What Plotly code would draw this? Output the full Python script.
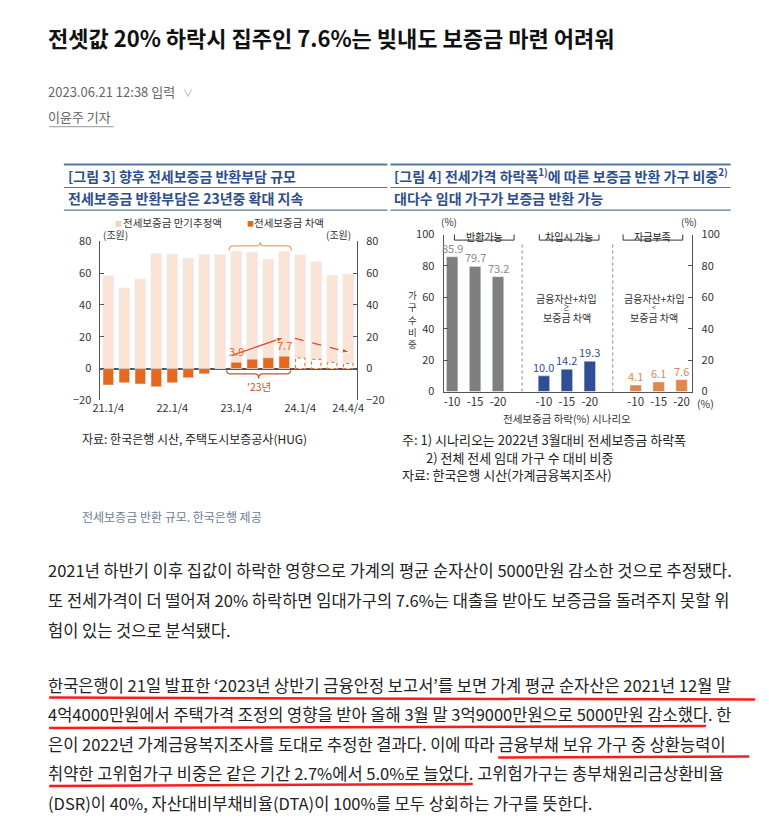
import plotly.graph_objects as go

W, H = 769, 838
FONT = "Noto Sans CJK KR"


def px(x):
    return x / W


def py(y):
    return 1 - y / H


# [그림 3] 전세보증금 만기추정액 / 차액 (조원)
quarters = ['21.1/4', '21.2/4', '21.3/4', '21.4/4', '22.1/4', '22.2/4', '22.3/4', '22.4/4',
            '23.1/4', '23.2/4', '23.3/4', '23.4/4', '24.1/4', '24.2/4', '24.3/4', '24.4/4']
maturity = [58.3, 50.6, 56.2, 72.1, 71.9, 69.2, 71.7, 71.5, 73.5, 73.0, 68.7, 73.6, 71.3, 67.1, 58.5, 59.3]
gap = [-10.3, -8.9, -9.7, -11.4, -8.9, -5.8, -3.3, 0.0, 3.9, 5.9, 6.7, 7.7]
gap_fcst = [6.6, 5.8, 3.9, 3.1]
gap_labels = {8: '3.9', 11: '7.7'}
tick_quarters = ['21.1/4', '22.1/4', '23.1/4', '24.1/4', '24.4/4']

# [그림 4] 보증금 반환 가구 비중 (%)
scenarios = ['-10', '-15', '-20']
groups = ['반환가능', '차입시 가능', '자금부족']
share_ok = [85.9, 79.7, 73.2]
share_borrow = [10.0, 14.2, 19.3]
share_short = [4.1, 6.1, 7.6]

LIGHT = '#FBE4D5'
ORANGE = '#E4691E'
ARROW = '#E2462A'
BLUE_T = '#2D4E8E'
RULE = '#56779F'

idx = list(range(len(quarters)))
fig = go.Figure()

# --- 그림 3 ---
fig.add_trace(go.Bar(x=idx, y=maturity, width=0.68, marker_color=LIGHT, xaxis='x', yaxis='y'))
fig.add_trace(go.Bar(x=idx[:len(gap)], y=gap, width=0.66, marker_color=ORANGE, xaxis='x', yaxis='y'))
fx, fy = [], []
for i, v in zip(idx[len(gap):], gap_fcst):
    fx += [i - 0.29, i + 0.29, i + 0.29, i - 0.29, i - 0.29, None]
    fy += [0, 0, v, v, 0, None]
fig.add_trace(go.Scatter(x=fx, y=fy, mode='lines', fill='toself', fillcolor='white',
                         line=dict(color=ORANGE, width=1, dash='dot'), xaxis='x', yaxis='y'))
fig.add_trace(go.Scatter(x=idx, y=maturity, mode='markers', marker=dict(opacity=0),
                         xaxis='x', yaxis='y2'))

# arrows
for (x0, y0, x1, y1, dash) in [(7.73, 8.3, 11.0, 19.6, 'solid'), (11.66, 19.0, 15.1, 10.1, 'dash')]:
    fig.add_trace(go.Scatter(x=[x0, x1], y=[y0, y1], mode='lines+markers',
                             line=dict(color=ARROW, width=1.3, dash=dash),
                             marker=dict(symbol='arrow', angleref='previous', size=[0, 8],
                                         opacity=[0, 1], color=ARROW),
                             xaxis='x', yaxis='y'))

# --- 그림 4 ---
series = [(share_ok, '#7F7F7F', '#8A8A8A'), (share_borrow, '#2F4E96', '#2F4E96'),
          (share_short, '#E0874C', '#E0874C')]
bar_pos = []
for g, (vals, col, tcol) in enumerate(series):
    xs = [g * 4 + k + 1 for k in range(len(scenarios))]
    bar_pos.append(xs)
    fig.add_trace(go.Bar(x=xs, y=vals, width=0.5, marker_color=col, xaxis='x2', yaxis='y3'))
fig.add_trace(go.Scatter(x=[1, 11], y=[0, 100], mode='markers', marker=dict(opacity=0),
                         xaxis='x2', yaxis='y4'))

tick_font = dict(size=11, color='#333', family=FONT)
yax = dict(showline=True, linecolor='#555', linewidth=1, ticks='inside', ticklen=4,
           tickcolor='#555', showgrid=False, tickfont=tick_font, ticklabelstandoff=6)
fig.update_layout(
    width=W, height=H, margin=dict(l=0, r=0, t=0, b=0),
    paper_bgcolor='white', plot_bgcolor='white',
    font=dict(family=FONT, color='#222'),
    showlegend=False, hovermode=False, barmode='overlay',
    xaxis=dict(domain=[px(94.3), px(356)], range=[-0.49, 15.55], anchor='y',
               tickvals=[quarters.index(q) for q in tick_quarters], ticktext=tick_quarters,
               showline=False, showgrid=False, zeroline=False, ticks='', tickfont=tick_font,
               ticklabelstandoff=0),
    yaxis=dict(domain=[py(399), py(236.7)], range=[-20, 80], dtick=20, anchor='x',
               zeroline=True, zerolinecolor='#555', zerolinewidth=1.5, **yax),
    yaxis2=dict(overlaying='y', side='right', anchor='x', range=[-20, 80], dtick=20,
                zeroline=False, **yax),
    xaxis2=dict(domain=[px(444.3), px(698)], range=[0.63, 11.47], anchor='y3',
                tickvals=[g * 4 + k + 1 for g in range(3) for k in range(3)],
                ticktext=scenarios * 3, showline=True, linecolor='#555', linewidth=1,
                showgrid=False, zeroline=False, ticks='',
                tickfont=dict(size=11.5, color='#333', family=FONT)),
    yaxis3=dict(domain=[py(390), py(230)], range=[0, 100], dtick=20, anchor='x2',
                zeroline=False, **yax),
    yaxis4=dict(overlaying='y3', side='right', anchor='x2', range=[0, 100], dtick=20,
                zeroline=False, **yax),
)

ann = []


def note(x, y, text, size, color='#222', anchor='left', **kw):
    ann.append(dict(x=px(x), y=py(y), xref='paper', yref='paper', text=text, showarrow=False,
                    xanchor=anchor, yanchor='middle', font=dict(size=size, color=color, family=FONT), **kw))


def dnote(x, y, text, size, color, xr='x', yr='y', **kw):
    ann.append(dict(x=x, y=y, xref=xr, yref=yr, text=text, showarrow=False,
                    xanchor='center', yanchor='middle', font=dict(size=size, color=color, family=FONT), **kw))


# bar value labels
for i, lab in gap_labels.items():
    ann.append(dict(x=i, y=gap[i], xref='x', yref='y', text=lab, showarrow=False,
                    xanchor='center', yanchor='bottom', yshift=1,
                    font=dict(size=11, color=ORANGE, family=FONT)))
for xs, (vals, col, tcol) in zip(bar_pos, series):
    for x, v in zip(xs, vals):
        ann.append(dict(x=x, y=v, xref='x2', yref='y3', text=f'{v:.1f}', showarrow=False,
                        xanchor='center', yanchor='bottom', yshift=-1,
                        font=dict(size=11, color=tcol, family=FONT)))

# article header
note(39, 29, '<b>전셋값 20% 하락시 집주인 7.6%는 빚내도 보증금 마련 어려워</b>', 22, '#111')
note(39, 84, '2023.06.21 12:38 입력', 13, '#666')
note(176, 85, '∨', 10, '#AAA')
note(39, 110, '이윤주 기자', 13, '#666')

# figure titles
note(59, 170, '<b>[그림 3] 향후 전세보증금 반환부담 규모</b>', 14, BLUE_T)
note(59, 193, '<b>전세보증금 반환부담은 23년중 확대 지속</b>', 14, BLUE_T)
note(392, 170, '<b>[그림 4] 전세가격 하락폭<sup>1)</sup>에 따른 보증금 반환 가구 비중<sup>2)</sup></b>', 14, BLUE_T)
note(392, 193, '<b>대다수 임대 가구가 보증금 반환 가능</b>', 14, BLUE_T)

# 그림 3 legend + units
note(107, 218, '■', 7, '#F3D3C0')
note(115, 218, '전세보증금 만기추정액', 10.5, '#333')
note(242, 218, '■', 7, ORANGE)
note(249, 218, '전세보증금 차액', 10.5, '#333')
note(95, 230, '(조원)', 10, '#333')
note(322, 230, '(조원)', 10, '#333')
dnote(9.5, 84.7, '288.8조원', 10.5, '#F2A06C')
dnote(9.4, -11.4, "'23년", 10.5, '#C8562A')
dnote(9.4, -20.2, '<b>24.2조원</b>', 10.5, ORANGE)

# 그림 4 labels
note(440, 217, '(%)', 10, '#333')
note(684, 217, '(%)', 10, '#333')
note(701, 402, '(%)', 10.5, '#333')
note(570, 417, '전세보증금 하락(%) 시나리오', 10.5, '#333', anchor='center')
note(413, 317, '가<br>구<br>수<br>비<br>중', 9.5, '#333', anchor='center')
box_centers = [2.4, 6.1, 9.75]
for c, label in zip(box_centers, groups):
    dnote(c, 98.6, label, 10, '#222', xr='x2', yr='y3')
for c, rel in zip([6.0, 9.8], ['≥', '<']):
    dnote(c, 59.0, '금융자산+차입', 10, '#333', xr='x2', yr='y3')
    dnote(c, 53.8, rel, 6.5, '#333', xr='x2', yr='y3')
    dnote(c, 47.5, '보증금 차액', 10, '#333', xr='x2', yr='y3')

# sources
note(73, 438, '자료: 한국은행 시산, 주택도시보증공사(HUG)', 12, '#222')
note(400, 439, '주: 1) 시나리오는 2022년 3월대비 전세보증금 하락폭', 13, '#222')
note(424, 457, '2) 전체 전세 임대 가구 수 대비 비중', 13, '#222')
note(400, 475, '자료: 한국은행 시산(가계금융복지조사)', 13, '#222')
note(73, 517, '전세보증금 반환 규모. 한국은행 제공', 12, '#6E7C91')

# body text
para = [
    (572, '2021년 하반기 이후 집값이 하락한 영향으로 가계의 평균 순자산이 5000만원 감소한 것으로 추정됐다.'),
    (603, '또 전세가격이 더 떨어져 20% 하락하면 임대가구의 7.6%는 대출을 받아도 보증금을 돌려주지 못할 위'),
    (633, '험이 있는 것으로 분석됐다.'),
    (689, '한국은행이 21일 발표한 ‘2023년 상반기 금융안정 보고서’를 보면 가계 평균 순자산은 2021년 12월 말'),
    (719, '4억4000만원에서 주택가격 조정의 영향을 받아 올해 3월 말 3억9000만원으로 5000만원 감소했다. 한'),
    (749, '은이 2022년 가계금융복지조사를 토대로 추정한 결과다. 이에 따라 금융부채 보유 가구 중 상환능력이'),
    (779, '취약한 고위험가구 비중은 같은 기간 2.7%에서 5.0%로 늘었다. 고위험가구는 총부채원리금상환비율'),
    (809, '(DSR)이 40%, 자산대비부채비율(DTA)이 100%를 모두 상회하는 가구를 뜻한다.'),
]
for y, line in para:
    note(39, y, line, 16.5, '#222')

shapes = []


def rule(x0, y0, x1, y1, color, width):
    shapes.append(dict(type='line', xref='paper', yref='paper', x0=px(x0), y0=py(y0),
                       x1=px(x1), y1=py(y1), line=dict(color=color, width=width)))


for (a, b) in [(57, 387), (390, 737)]:
    rule(a, 158.5, b, 158.5, RULE, 2)
    rule(a, 182, b, 182, RULE, 1)
    rule(a, 205, b, 205, RULE, 1.2)
rule(42, 120, 108, 120, '#999', 1)
for (x0, y0, x1, y1) in [(42, 702, 762, 704), (42, 733, 712, 731), (500, 763, 756, 762), (42, 792, 474, 790)]:
    rule(x0, y0, x1, y1, '#FF1A1A', 2.5)

# braces (data coords)
shapes.append(dict(type='path', xref='x', yref='y', line=dict(color='#F2A06C', width=1.2),
                   path='M 7.55,74 Q 7.55,77 7.85,77 L 9.25,77 Q 9.5,77 9.5,79.5 '
                        'Q 9.5,77 9.75,77 L 11.15,77 Q 11.45,77 11.45,74'))
shapes.append(dict(type='path', xref='x', yref='y', line=dict(color='#C8562A', width=1.2),
                   path='M 7.4,-1 Q 7.4,-3.4 7.7,-3.4 L 9.15,-3.4 Q 9.4,-3.4 9.4,-6.3 '
                        'Q 9.4,-3.4 9.65,-3.4 L 11.1,-3.4 Q 11.4,-3.4 11.4,-1'))
# panel separators
for xs in [4.05, 8.0]:
    shapes.append(dict(type='line', xref='x2', yref='y3', x0=xs, x1=xs, y0=0, y1=95,
                       line=dict(color='#888', width=1, dash='dot')))
for c in box_centers:
    shapes.append(dict(type='rect', xref='x2', yref='y3', x0=c - 1.3, x1=c + 1.3, y0=96.5, y1=102,
                       line=dict(color='#333', width=1), fillcolor='rgba(0,0,0,0)'))

fig.update_layout(annotations=ann, shapes=shapes)
fig.write_html("out.html", config={'displayModeBar': False},
               post_script="document.body.style.margin='0';"
                           "document.body.style.overflow='hidden';"
                           "document.documentElement.style.overflow='hidden';")
